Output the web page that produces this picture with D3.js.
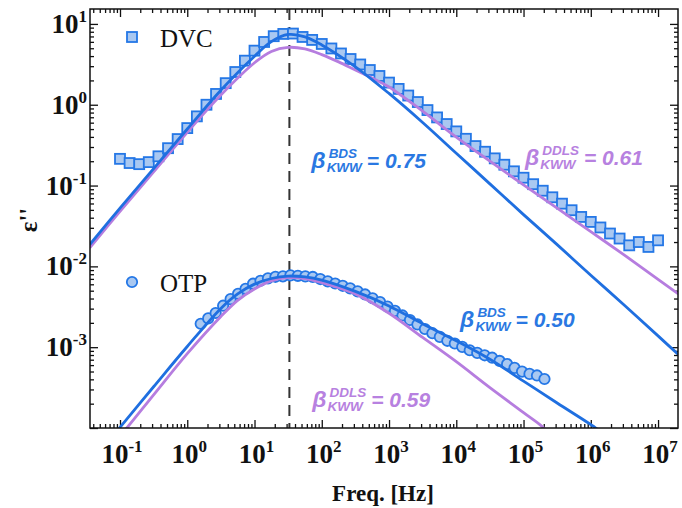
<!DOCTYPE html>
<html>
<head>
<meta charset="utf-8">
<script src="https://cdn.jsdelivr.net/npm/d3@7"></script>
<style>
  body { margin: 0; background: #fff; }
  svg { display: block; }
</style>
</head>
<body>
<svg id="chart" width="682" height="508"></svg>
<script>
// ---- data ----
const dvcFreq = [0.1, 0.139, 0.193, 0.268, 0.373, 0.518, 0.72,
    1, 1.39, 1.93, 2.68, 3.73, 5.18, 7.2,
    10, 13.9, 19.3, 26.8, 37.3, 51.8, 72,
    100, 139, 193, 268, 373, 518, 720,
    1000, 1390, 1930, 2680, 3730, 5180, 7200,
    1e4, 1.39e4, 1.93e4, 2.68e4, 3.73e4, 5.18e4, 7.2e4,
    1e5, 1.39e5, 1.93e5, 2.68e5, 3.73e5, 5.18e5, 7.2e5,
    1e6, 1.39e6, 1.93e6, 2.68e6, 3.73e6, 5.18e6, 7.2e6, 1e7];
const dvcEps = [0.214, 0.190, 0.184, 0.195, 0.230, 0.290, 0.376,
    0.514, 0.718, 1.00, 1.36, 1.85, 2.54, 3.51,
    4.67, 5.98, 7.05, 7.52, 7.60, 6.90, 6.34,
    5.65, 4.97, 4.31, 3.68, 3.15, 2.69, 2.27,
    1.88, 1.57, 1.30, 1.08, 0.859, 0.697, 0.577,
    0.468, 0.379, 0.308, 0.262, 0.217, 0.181, 0.150,
    0.125, 0.104, 0.0863, 0.0716, 0.0597, 0.0495, 0.0409,
    0.0355, 0.0303, 0.0255, 0.0221, 0.0182, 0.0200, 0.0174, 0.0210];

const otpFreq = [1.585, 2.048, 2.643, 3.415, 4.411, 5.696, 7.356, 9.502, 12.27,
    15.85, 20.48, 26.43, 34.15, 44.11, 56.96, 73.56, 95.02, 122.7,
    158.5, 204.8, 264.3, 341.5, 441.1, 569.6, 735.6, 950.2, 1227,
    1585, 2048, 2643, 3415, 4411, 5696, 7356, 9502, 12270,
    15850, 20480, 26430, 34150, 44110, 56960, 73560, 95020, 122700,
    158500, 204800];
const otpEps = [1.95e-3, 2.27e-3, 2.65e-3, 3.26e-3, 3.93e-3, 4.58e-3, 5.28e-3, 6.10e-3, 6.64e-3,
    7.10e-3, 7.43e-3, 7.53e-3, 7.74e-3, 7.64e-3, 7.52e-3, 7.40e-3, 6.97e-3, 6.53e-3,
    6.14e-3, 5.75e-3, 5.35e-3, 4.91e-3, 4.49e-3, 4.03e-3, 3.62e-3, 3.18e-3, 2.81e-3,
    2.47e-3, 2.17e-3, 1.91e-3, 1.68e-3, 1.49e-3, 1.34e-3, 1.20e-3, 1.11e-3, 1.01e-3,
    9.16e-4, 8.51e-4, 7.94e-4, 7.41e-4, 6.76e-4, 6.17e-4, 5.55e-4, 4.99e-4, 4.67e-4,
    4.47e-4, 4.04e-4];

// KWW fit curves (BDS and DDLS), sampled off the figure
const dvcBdsFreq = [0.0355, 0.1, 0.316, 1, 3.16, 10, 17.8, 31.6, 56.2, 100, 316, 1000,
    3160, 1e4, 3.16e4, 1e5, 3.16e5, 1e6, 3.16e6, 1e7, 2e7];
const dvcBdsEps = [0.0186, 0.0525, 0.162, 0.501, 1.51, 3.98, 6.03, 7.41, 6.92, 5.50, 2.95, 1.38,
    0.603, 0.251, 0.105, 0.0437, 0.0186, 7.76e-3, 3.31e-3, 1.38e-3, 8.13e-4];

const dvcDdlsFreq = [0.0355, 0.1, 0.316, 1, 3.16, 10, 17.8, 31.6, 56.2, 100, 178, 316, 562, 1000,
    3160, 1e4, 3.16e4, 1e5, 3.16e5, 1e6, 3.16e6, 1e7, 2e7];
const dvcDdlsEps = [0.0170, 0.0479, 0.148, 0.457, 1.32, 3.31, 4.57, 5.13, 4.90, 4.17, 3.39, 2.69, 2.14, 1.66,
    0.832, 0.398, 0.200, 0.102, 0.0525, 0.0269, 0.0138, 6.92e-3, 4.57e-3];

const otpBdsFreq = [0.09, 0.1, 0.316, 1, 3.16, 5.62, 10, 17.8, 31.6, 56.2, 100, 316, 1000,
    3160, 1e4, 3.16e4, 1e5, 3.16e5, 1.15e6, 1.3e6];
const otpBdsEps = [9.2e-5, 1.02e-4, 3.24e-4, 1.02e-3, 3.02e-3, 4.57e-3, 6.03e-3, 7.08e-3, 7.59e-3, 7.41e-3, 6.76e-3, 4.90e-3, 3.24e-3,
    1.95e-3, 1.20e-3, 7.08e-4, 3.80e-4, 2.04e-4, 1.02e-4, 9.4e-5];

const otpDdlsFreq = [0.112, 0.126, 0.316, 1, 3.16, 5.62, 10, 17.8, 31.6, 56.2, 100, 316, 1000,
    3160, 1e4, 3.16e4, 1e5, 2e5, 2.24e5];
const otpDdlsEps = [9.0e-5, 1.0e-4, 2.57e-4, 8.32e-4, 2.40e-3, 3.80e-3, 5.25e-3, 6.61e-3, 7.24e-3, 7.08e-3, 6.31e-3, 4.57e-3, 2.63e-3,
    1.32e-3, 6.61e-4, 3.16e-4, 1.55e-4, 1.0e-4, 8.7e-5];

const peakFreq = 33;

const xMajor = [0.1, 1, 10, 100, 1e3, 1e4, 1e5, 1e6, 1e7];
const xLabelExp = ['-1', '0', '1', '2', '3', '4', '5', '6', '7'];
const yMajor = [1e-4, 1e-3, 1e-2, 1e-1, 1, 10];
const yLabelExp = [null, '-3', '-2', '-1', '0', '1'];

// stretched-exponent labels, anchored in data coordinates (beta glyph baseline)
const annotations = [
    { sup: 'BDS',  value: '0.75', fx: 70,    fy: 0.165,   color: 'blue' },
    { sup: 'DDLS', value: '0.61', fx: 1.05e5, fy: 0.18,   color: 'purple' },
    { sup: 'BDS',  value: '0.50', fx: 1.14e4, fy: 1.78e-3, color: 'blue' },
    { sup: 'DDLS', value: '0.59', fx: 72,    fy: 1.82e-4, color: 'purple' }
];

// ---- drawing ----
const colors = {
    blue: '#1f6fe0',
    purple: '#b67ddf',
    markerFill: '#a9c8f1',
    markerStroke: '#2477e6',
    textBlue: '#2a78e2',
    textPurple: '#b781e0'
};

const plotLeft = 90, plotRight = 678, plotTop = 9, plotBottom = 428;

const svg = d3.select('#chart');
const x = d3.scaleLog().domain([0.0358, 1.98e7]).range([plotLeft, plotRight]);
const y = d3.scaleLog().domain([1e-4, 15.3]).range([plotBottom, plotTop]);

svg.append('defs').append('clipPath').attr('id', 'plotClip')
    .append('rect').attr('x', plotLeft).attr('y', plotTop)
    .attr('width', plotRight - plotLeft).attr('height', plotBottom - plotTop);

function minorTicks(scale) {
    const [a, b] = scale.domain();
    const out = [];
    for (let e = Math.floor(Math.log10(a)); e <= Math.ceil(Math.log10(b)); e++) {
        for (let m = 2; m <= 9; m++) {
            const v = m * Math.pow(10, e);
            if (v > a && v < b) out.push(v);
        }
    }
    return out;
}

const xMinor = minorTicks(x);
const yMinor = minorTicks(y);

function addAxis(axisFn, scale, values, size, transform) {
    const g = svg.append('g').attr('transform', transform)
        .call(axisFn(scale).tickValues(values).tickSize(-size).tickFormat(''));
    g.select('.domain').remove();
    g.selectAll('line').attr('stroke', '#111').attr('stroke-width', 1.3);
}

addAxis(d3.axisBottom, x, xMajor, 8, `translate(0,${plotBottom})`);
addAxis(d3.axisBottom, x, xMinor, 4, `translate(0,${plotBottom})`);
addAxis(d3.axisTop, x, xMajor, 8, `translate(0,${plotTop})`);
addAxis(d3.axisTop, x, xMinor, 4, `translate(0,${plotTop})`);
addAxis(d3.axisLeft, y, yMajor, 8, `translate(${plotLeft},0)`);
addAxis(d3.axisLeft, y, yMinor, 4, `translate(${plotLeft},0)`);
addAxis(d3.axisRight, y, yMajor, 8, `translate(${plotRight},0)`);
addAxis(d3.axisRight, y, yMinor, 4, `translate(${plotRight},0)`);

const plot = svg.append('g').attr('clip-path', 'url(#plotClip)');

// dashed line at the peak
plot.append('line')
    .attr('x1', x(peakFreq)).attr('x2', x(peakFreq))
    .attr('y1', plotTop).attr('y2', plotBottom)
    .attr('stroke', '#333').attr('stroke-width', 2)
    .attr('stroke-dasharray', '11,7');

// markers
plot.append('g').selectAll('rect')
    .data(dvcFreq.map((f, i) => [f, dvcEps[i]]))
    .enter().append('rect')
    .attr('x', d => x(d[0]) - 5)
    .attr('y', d => y(d[1]) - 5)
    .attr('width', 10).attr('height', 10)
    .attr('fill', colors.markerFill)
    .attr('stroke', colors.markerStroke)
    .attr('stroke-width', 1.8);

plot.append('g').selectAll('circle')
    .data(otpFreq.map((f, i) => [f, otpEps[i]]))
    .enter().append('circle')
    .attr('cx', d => x(d[0]))
    .attr('cy', d => y(d[1]))
    .attr('r', 5.2)
    .attr('fill', colors.markerFill)
    .attr('stroke', colors.markerStroke)
    .attr('stroke-width', 1.8);

// fit curves
const line = d3.line()
    .x(d => x(d[0]))
    .y(d => y(d[1]))
    .curve(d3.curveCatmullRom.alpha(0.5));

const fits = [
    [dvcDdlsFreq, dvcDdlsEps, colors.purple],
    [otpDdlsFreq, otpDdlsEps, colors.purple],
    [dvcBdsFreq, dvcBdsEps, colors.blue],
    [otpBdsFreq, otpBdsEps, colors.blue]
];
fits.forEach(([fs, es, c]) => {
    plot.append('path')
        .datum(fs.map((f, i) => [f, es[i]]))
        .attr('d', line)
        .attr('fill', 'none')
        .attr('stroke', c)
        .attr('stroke-width', 2.8);
});

// frame
svg.append('rect')
    .attr('x', plotLeft).attr('y', plotTop)
    .attr('width', plotRight - plotLeft).attr('height', plotBottom - plotTop)
    .attr('fill', 'none').attr('stroke', '#111').attr('stroke-width', 1.5);

// tick labels
const serif = "'Liberation Serif', 'Times New Roman', serif";

function powerLabel(px, py, exp, anchor) {
    const t = svg.append('text')
        .attr('x', px).attr('y', py)
        .attr('text-anchor', anchor)
        .attr('font-family', serif)
        .attr('font-weight', 'bold')
        .attr('font-size', 27)
        .attr('fill', '#111');
    t.append('tspan').text('10');
    t.append('tspan').attr('dy', -11).attr('font-size', 17).text(exp);
}

xMajor.forEach((v, i) => powerLabel(x(v) + 2, 463, xLabelExp[i], 'middle'));
yMajor.forEach((v, i) => {
    if (yLabelExp[i] !== null) powerLabel(87, y(v) + 9, yLabelExp[i], 'end');
});

// axis titles
svg.append('text')
    .attr('x', 383).attr('y', 501)
    .attr('text-anchor', 'middle')
    .attr('font-family', serif).attr('font-weight', 'bold').attr('font-size', 23)
    .attr('fill', '#111')
    .text('Freq. [Hz]');

svg.append('text')
    .attr('transform', 'translate(37,220) rotate(-90)')
    .attr('text-anchor', 'middle')
    .attr('font-family', serif).attr('font-weight', 'bold').attr('font-size', 25)
    .attr('fill', '#111')
    .text('ε\'\'');

// legend
svg.append('rect')
    .attr('x', 127).attr('y', 32).attr('width', 10).attr('height', 10)
    .attr('fill', colors.markerFill).attr('stroke', colors.markerStroke).attr('stroke-width', 1.8);
svg.append('text')
    .attr('x', 160).attr('y', 47)
    .attr('font-family', serif).attr('font-size', 25).attr('fill', '#111')
    .text('DVC');
svg.append('circle')
    .attr('cx', 132).attr('cy', 282).attr('r', 5.2)
    .attr('fill', colors.markerFill).attr('stroke', colors.markerStroke).attr('stroke-width', 1.8);
svg.append('text')
    .attr('x', 160).attr('y', 292)
    .attr('font-family', serif).attr('font-size', 25).attr('fill', '#111')
    .text('OTP');

// beta annotations: β, superscript over subscript, then "= value"
const sans = "'Liberation Sans', Arial, sans-serif";
annotations.forEach(a => {
    const x0 = x(a.fx), y0 = y(a.fy);
    const col = a.color === 'blue' ? colors.textBlue : colors.textPurple;
    const g = svg.append('g')
        .attr('fill', col)
        .attr('font-family', sans)
        .attr('font-weight', 'bold')
        .attr('font-style', 'italic');
    const b = g.append('text').attr('x', x0).attr('y', y0).attr('font-size', 23).text('β');
    const bw = b.node().getComputedTextLength();
    const sup = g.append('text').attr('x', x0 + bw + 3).attr('y', y0 - 10).attr('font-size', 13.5).text(a.sup);
    const sub = g.append('text').attr('x', x0 + bw + 1).attr('y', y0 + 4).attr('font-size', 13.5).text('KWW');
    const w = Math.max(sup.node().getComputedTextLength() + 2, sub.node().getComputedTextLength());
    g.append('text').attr('x', x0 + bw + 1 + w + 5).attr('y', y0).attr('font-size', 21).text('= ' + a.value);
});
</script>
</body>
</html>
